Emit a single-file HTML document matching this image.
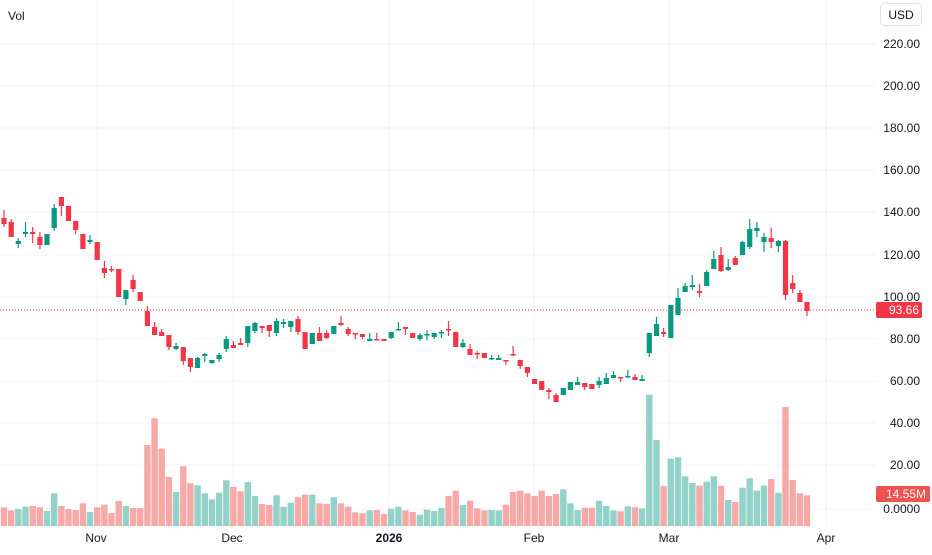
<!DOCTYPE html>
<html><head><meta charset="utf-8"><style>
html,body{margin:0;padding:0;background:#fff;}
svg text{font-family:"Liberation Sans",sans-serif;}
</style></head><body>
<svg id="s" width="932" height="550" xmlns="http://www.w3.org/2000/svg"></svg>
<script>
const s=document.getElementById('s');
let h='';
// horizontal grid
const labels=[[220,44],[200,86],[180,128],[160,170],[140,212],[120,255],[100,297],[80,339],[60,381],[40,423],[20,465],[0,509]];
labels.forEach(([v,y])=>{h+=`<line x1="0" x2="876" y1="${y}" y2="${y}" stroke="#f0f3fa" stroke-width="1"/>`;});
[97,233,389,534,669,826].forEach(x=>{h+=`<line x1="${x}" x2="${x}" y1="0" y2="526" stroke="#f0f3fa" stroke-width="1"/>`;});
// volumes
const v1=[292,301,297,290,288,292,303,250,288,297,300,280,306,292,284,309,273,288,294,294,105,25,116,201,246,169,220,226,250,268,248,211,231,244,216,258,282,285,256,290,278,262,254,254,280,282,262,280,290,307,310,301,300,312,296,290,301,306,314,299,303,294];
const v2=[318,302,345,332,355,361,360,361,344,306,302,310,318,302,318,312,298,340,360,353,353,332,348,361,364,349,352,355,14,150,288,206,202,259,279,287,275,259,287,330,336,293,265,302,287,267,308,51,270,310,316];
const vh=v1.map(t=>(348-t)/3).concat(v2.map(t=>(408-t)/3));
// candles [bt,bb,wt,wb,color]
const C=[
[218,224,210,227,'r'],[222,237,219,237,'r'],[241,244,238,248,'g'],[232,234,222,237,'g'],[232,234,227,243,'r'],[237,245,232,249,'r'],[234,245,234,245,'g'],[208,228,204,231,'g'],[197,206,197,216,'r'],[206,221,206,221,'r'],
[221,230,221,234,'r'],[234,249,234,249,'r'],[240,242,235,244,'g'],[242,260,242,260,'r'],[268,273,261,278,'r'],[269,270,266,272,'r'],[269,297,269,297,'r'],[290,299,290,305,'g'],[280,289,275,292,'r'],[292,301,292,301,'r'],
[311,326,306,326,'r'],[327,335,322,335,'r'],[332,336,329,336,'r'],[335,347,335,350,'r'],[346,349,343,350,'g'],[347,361,347,365,'r'],[358,367,358,372,'r'],[358,368,357,368,'g'],[354,356,353,362,'g'],[360,363,360,364,'g'],
[355,359,353,362,'g'],[339,349,336,352,'g'],[345,348,341,348,'r'],[343,345,338,345,'r'],[326,343,326,347,'g'],[323,331,322,333,'g'],[326,328,326,333,'r'],[325,331,325,337,'r'],[321,333,318,336,'g'],[322,324,319,328,'g'],
[321,327,321,332,'g'],[319,332,316,335,'r'],[332,349,332,349,'r'],[333,344,333,344,'g'],[333,341,327,341,'r'],[333,338,330,339,'r'],[326,334,326,334,'g'],[323,325,316,326,'r'],[329,334,327,336,'r'],[333,334,333,339,'r'],
[334,337,334,339,'r'],[339,341,333,341,'g'],[339,340,333,340,'r'],[339,341,339,341,'r'],[332,338,332,339,'g'],[329,330,322,330,'g'],[327,329,327,335,'r'],[333,338,333,338,'r'],[335,339,333,341,'g'],[334,335,330,340,'g'],
[333,337,333,339,'g'],[332,333,330,338,'g'],[329,330,321,336,'r'],[332,347,332,347,'r'],[343,347,339,348,'g'],[349,355,344,355,'r'],[353,354,351,359,'r'],[353,358,353,358,'r'],[358,359,355,360,'g'],[358,360,355,360,'g'],
[360,361,360,365,'r'],[354,355,346,356,'r'],[360,366,360,369,'r'],[367,373,367,377,'r'],[379,384,379,384,'r'],[381,390,381,390,'r'],[390,392,388,399,'r'],[395,402,393,402,'r'],[388,395,388,395,'g'],[382,390,382,390,'g'],
[382,385,377,385,'g'],[383,387,383,390,'r'],[384,389,384,389,'r'],[381,385,377,388,'g'],[378,384,373,384,'g'],[375,378,371,378,'g'],[377,378,377,382,'r'],[376,377,370,378,'g'],[377,380,374,380,'r'],[379,381,375,381,'g'],
[333,353,333,357,'g'],[324,336,317,336,'g'],[332,334,328,337,'r'],[305,338,305,338,'g'],[298,315,288,315,'g'],[286,292,283,292,'g'],[285,287,275,290,'g'],[291,293,284,297,'r'],[272,286,270,286,'g'],[259,269,251,269,'g'],
[255,271,247,272,'r'],[267,270,259,271,'g'],[258,265,256,265,'r'],[242,255,241,255,'g'],[229,247,219,249,'g'],[228,231,222,237,'g'],[237,242,233,252,'g'],[238,242,228,248,'r'],[241,246,240,252,'g'],[241,295,240,300,'r'],
[283,289,275,293,'r'],[293,302,290,302,'r'],[302,311,302,316,'r']];
const X=i=>4+i*7.17;
vh.forEach((hh,i)=>{const c=C[i]?C[i][4]:'r';h+=`<rect x="${(X(i)-3.2).toFixed(1)}" y="${(526-hh).toFixed(1)}" width="6.4" height="${hh.toFixed(1)}" fill="${c=='g'?'#92d2c9':'#f7a9a7'}"/>`;});
C.forEach((d,i)=>{const col=d[4]=='g'?'#089981':'#f23645';const x=X(i);
h+=`<line x1="${x.toFixed(1)}" x2="${x.toFixed(1)}" y1="${d[2]}" y2="${d[3]}" stroke="${col}" stroke-width="1.2"/>`;
h+=`<rect x="${(x-2.6).toFixed(1)}" y="${d[0]}" width="5.2" height="${Math.max(1.5,d[1]-d[0])}" fill="${col}"/>`;});
// price line
h+=`<line x1="0" x2="876" y1="310" y2="310" stroke="#f23645" stroke-width="1" stroke-dasharray="1,2"/>`;
// axis labels
labels.forEach(([v,y])=>{h+=`<text x="920" y="${y+4}" font-size="12" fill="#131722" text-anchor="end">${v==0?'0.0000':v.toFixed(2)}</text>`;});
h+=`<rect x="876" y="302" width="46" height="16" rx="2" fill="#f23645"/><text x="919" y="314" font-size="12" fill="#fff" text-anchor="end">93.66</text>`;
h+=`<rect x="876" y="486" width="54" height="16" rx="2" fill="#f05350"/><text x="926" y="498" font-size="12" fill="#fff" text-anchor="end">14.55M</text>`;
h+=`<rect x="880.5" y="3.5" width="41" height="22" rx="4" fill="#fff" stroke="#e0e3eb"/><text x="901" y="19" font-size="12" fill="#131722" text-anchor="middle">USD</text>`;
h+=`<text x="8" y="20" font-size="12" fill="#131722">Vol</text>`;
[['Nov',96,''],['Dec',232,''],['2026',389,'bold'],['Feb',534,''],['Mar',669,''],['Apr',826,'']].forEach(([t,x,b])=>{h+=`<text x="${x}" y="542" font-size="12" fill="#131722" text-anchor="middle" font-weight="${b||'normal'}">${t}</text>`;});
s.innerHTML=h;
</script>
</body></html>
